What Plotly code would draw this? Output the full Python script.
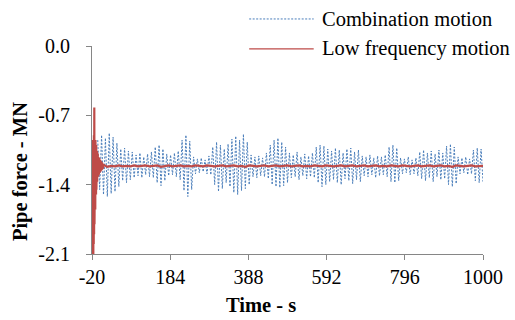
import numpy as np
import plotly.graph_objects as go

# ---- data ----
X_TICKS = [-20, 184, 388, 592, 796, 1000]
Y_TICKS = [-2.1, -1.4, -0.7, 0.0]

# Combination motion: sampled every 5 s from t = -5 s, alternating crest / trough
COMB_T0 = -5
COMB_DT = 5
COMB_VALUES = [
    -0.95, -1.45, -0.90, -1.50, -0.93, -1.52, -0.88, -1.49, -0.92, -1.47, -0.98, -1.42,
    -1.04, -1.36, -1.03, -1.38, -1.06, -1.35, -1.07, -1.33,
    -1.10, -1.31, -1.08, -1.33, -1.12, -1.30, -1.09, -1.32, -1.07, -1.33,
    -1.02, -1.38, -1.00, -1.41, -1.04, -1.36,
    -1.09, -1.31, -1.10, -1.30, -1.08, -1.32, -1.06, -1.35,
    -0.95, -1.46, -0.90, -1.52, -0.96, -1.45,
    -1.12, -1.29, -1.14, -1.28, -1.13, -1.27, -1.15, -1.29, -1.11, -1.30,
    -1.02, -1.40, -0.97, -1.47, -1.00, -1.44, -1.04, -1.38,
    -0.99, -1.42, -0.94, -1.48, -0.91, -1.50, -0.95, -1.46, -0.89, -1.44, -0.97, -1.40,
    -1.10, -1.32, -1.12, -1.33, -1.11, -1.31, -1.13, -1.32, -1.08, -1.34,
    -1.00, -1.40, -0.95, -1.42, -0.93, -1.43, -0.97, -1.41, -1.02, -1.38,
    -1.08, -1.33, -1.10, -1.32, -1.07, -1.35, -1.12, -1.31, -1.09, -1.34, -1.11, -1.32, -1.08, -1.33,
    -1.02, -1.38, -1.00, -1.42, -1.01, -1.40, -1.04, -1.37,
    -1.06, -1.35, -1.03, -1.38, -1.05, -1.40, -1.08, -1.34, -1.04, -1.36, -1.03, -1.39, -1.07, -1.35, -1.05, -1.37,
    -1.11, -1.31, -1.12, -1.32, -1.10, -1.30, -1.13, -1.33, -1.11, -1.31, -1.12, -1.30, -1.10, -1.32,
    -1.02, -1.37, -1.00, -1.38, -1.03, -1.36,
    -1.13, -1.29, -1.14, -1.28, -1.12, -1.30, -1.15, -1.29, -1.13, -1.31,
    -1.07, -1.34, -1.05, -1.36, -1.08, -1.33, -1.06, -1.37, -1.09, -1.32, -1.05, -1.35, -1.08, -1.34,
    -1.01, -1.40, -0.99, -1.42, -1.02, -1.39,
    -1.12, -1.29, -1.13, -1.28, -1.12, -1.30, -1.14, -1.29,
    -1.05, -1.36, -1.03, -1.38, -1.04, -1.37,
]

# Low frequency motion: start-up transient then small wander about the mean
LOW_T = [
    -20, -19.5, -19, -18.5, -18, -17.5, -17, -16.5, -16, -15.5, -15, -14.5, -14, -13.5,
    -13, -12.5, -12, -11.5, -11, -10.5, -10, -9.5, -9, -8.5, -8, -7.5, -7, -6.5, -6,
    -5.5, -5, -4, -3, -2, -1, 0, 1, 2, 3, 4, 5, 6, 7, 8,
    10, 20, 30, 40, 50, 60, 70, 80, 90, 100, 110, 120, 130, 140, 150, 160, 170, 180,
    190, 200, 210, 220, 230, 240, 250, 260, 270, 280, 290, 300, 310, 320, 330, 340,
    350, 360, 370, 380, 390, 400, 410, 420, 430, 440, 450, 460, 470, 480, 490, 500,
    510, 520, 530, 540, 550, 560, 570, 580, 590, 600, 610, 620, 630, 640, 650, 660,
    670, 680, 690, 700, 710, 720, 730, 740, 750, 760, 770, 780, 790, 800, 810, 820,
    830, 840, 850, 860, 870, 880, 890, 900, 910, 920, 930, 940, 950, 960, 970, 980,
    990, 1000,
]
LOW_VALUES = [
    -1.20, -2.20, -0.95, -2.20, -0.98, -2.15, -0.95, -2.10, -1.00, -2.00, -0.90, -1.90, -0.62, -1.80,
    -0.75, -1.75, -0.95, -1.65, -0.95, -1.60, -0.98, -1.50, -1.00, -1.45, -1.03, -1.40, -1.06, -1.37, -1.08,
    -1.34, -1.10, -1.32, -1.12, -1.30, -1.13, -1.28, -1.15, -1.27, -1.16, -1.26, -1.17, -1.25, -1.18, -1.24,
    -1.20, -1.22, -1.21, -1.215, -1.205, -1.215, -1.21, -1.215, -1.205, -1.215, -1.21, -1.205, -1.215, -1.21, -1.205, -1.22, -1.21, -1.205,
    -1.215, -1.21, -1.205, -1.215, -1.21, -1.215, -1.205, -1.21, -1.215, -1.205, -1.21, -1.215, -1.21, -1.205, -1.215, -1.21,
    -1.205, -1.215, -1.21, -1.22, -1.205, -1.21, -1.215, -1.21, -1.205, -1.215, -1.21, -1.205, -1.215, -1.21, -1.205, -1.215,
    -1.21, -1.205, -1.215, -1.21, -1.215, -1.205, -1.21, -1.215, -1.205, -1.21, -1.215, -1.21, -1.205, -1.215, -1.21, -1.205,
    -1.215, -1.21, -1.205, -1.215, -1.21, -1.205, -1.215, -1.21, -1.215, -1.205, -1.21, -1.215, -1.205, -1.21, -1.215, -1.21,
    -1.205, -1.215, -1.21, -1.205, -1.215, -1.21, -1.205, -1.215, -1.21, -1.22, -1.205, -1.21, -1.215, -1.21, -1.205, -1.215,
    -1.21, -1.21,
]

SERIES_NAMES = ["Combination motion", "Low frequency motion"]
X_TITLE = "Time - s"
Y_TITLE = "Pipe force - MN"

BLUE = "#4a7ebb"
RED = "#be4b48"
AXIS_GREY = "#868686"
FONT = "Liberation Serif"

comb_t = COMB_T0 + COMB_DT * np.arange(len(COMB_VALUES))

fig = go.Figure()
fig.add_trace(go.Scatter(
    x=comb_t, y=COMB_VALUES, mode="lines", name=SERIES_NAMES[0],
    line=dict(color=BLUE, width=1, dash="2px,1.5px"), showlegend=False,
))
fig.add_trace(go.Scatter(
    x=LOW_T, y=LOW_VALUES, mode="lines", name=SERIES_NAMES[1],
    line=dict(color=RED, width=2.2), showlegend=False,
))

# legend drawn as line samples + text (samples are longer than plotly's native ones)
legend_rows = [(SERIES_NAMES[0], BLUE, "2px,1.5px", 1, 1.13),
               (SERIES_NAMES[1], RED, "solid", 1.2, 0.986)]
for name, col, dash, w, yy in legend_rows:
    fig.add_shape(type="line", xref="paper", yref="paper", x0=0.402, x1=0.567, y0=yy, y1=yy,
                  line=dict(color=col, width=w, dash=dash))
    fig.add_annotation(xref="paper", yref="paper", x=0.584, y=yy, text=name, showarrow=False,
                       xanchor="left", yanchor="middle", font=dict(family=FONT, size=20.5, color="#000"))

# axis titles (positioned as in the reference, not centred on the plot)
fig.add_annotation(xref="paper", yref="paper", x=0.432, y=-0.245, text="<b>" + X_TITLE + "</b>",
                   showarrow=False, xanchor="center", yanchor="middle",
                   font=dict(family=FONT, size=20.5, color="#000"))
fig.add_annotation(xref="paper", yref="paper", x=-0.184, y=0.394, text="<b>" + Y_TITLE + "</b>",
                   showarrow=False, xanchor="center", yanchor="middle", textangle=-90,
                   font=dict(family=FONT, size=20.5, color="#000"))

fig.update_layout(
    width=515, height=320,
    margin=dict(l=92, r=25, t=46, b=66),
    paper_bgcolor="white", plot_bgcolor="white",
    font=dict(family=FONT, size=20, color="#000"),
    showlegend=False,
)
fig.update_xaxes(
    range=[-20, 1000], tickvals=X_TICKS, ticktext=[str(v) for v in X_TICKS],
    showgrid=False, zeroline=False, showline=True, linecolor=AXIS_GREY, linewidth=1,
    ticks="outside", ticklen=5, tickcolor=AXIS_GREY,
    tickfont=dict(family=FONT, size=20, color="#000"),
)
fig.update_yaxes(
    range=[-2.1, 0.0], tickvals=Y_TICKS, ticktext=["%.1f" % v for v in Y_TICKS],
    showgrid=False, zeroline=False, showline=True, linecolor=AXIS_GREY, linewidth=1,
    ticks="outside", ticklen=5, tickcolor=AXIS_GREY, ticklabelstandoff=12,
    tickfont=dict(family=FONT, size=20, color="#000"),
)

fig.write_html("out.html")
